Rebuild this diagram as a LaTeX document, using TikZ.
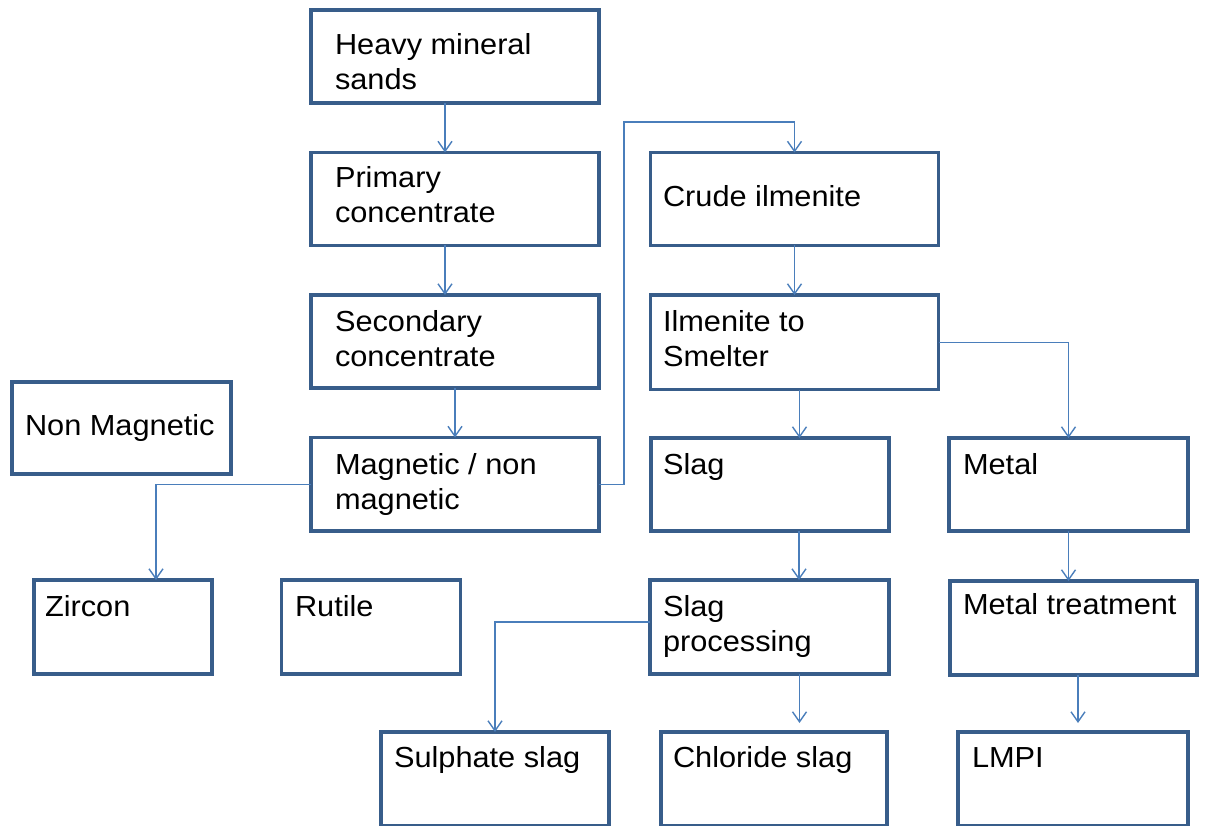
\documentclass[tikz,border=0pt]{standalone}
\usepackage{fontspec}
\setmainfont{Liberation Sans}[FakeStretch=1.06]
\usetikzlibrary{arrows.meta,calc}
\definecolor{boxc}{RGB}{56,93,138}
\definecolor{arrc}{RGB}{74,126,187}
\tikzset{
  box/.style={draw=boxc, line width=3.6pt, inner sep=0pt, outer sep=0pt, anchor=north west, fill=white},
  txt/.style={inner sep=0pt, outer sep=0pt, anchor=base west, font=\fontsize{29}{35}\selectfont},
  arr/.style={draw=arrc, line width=1.4pt, -{Straight Barb[length=10pt,width=14pt]}},
}
\newcommand{\twol}[2]{\begin{tabular}[t]{@{}l@{}}#1\\#2\end{tabular}}
\begin{document}
\begin{tikzpicture}[x=1pt,y=-1pt]
\useasboundingbox (0,0) rectangle (1209,826);
% boxes
\node[box, minimum width=288pt, minimum height=93pt] (hms) at (311,10) {};
\node[box, minimum width=288pt, minimum height=93pt] (prim) at (311,152.5) {};
\node[box, minimum width=288pt, minimum height=93pt] (sec) at (311,295) {};
\node[box, minimum width=288pt, minimum height=93.5pt] (mag) at (311,437.5) {};
\node[box, minimum width=219pt, minimum height=92pt] (nonmag) at (12,382) {};
\node[box, minimum width=178pt, minimum height=94pt] (zir) at (34,580) {};
\node[box, minimum width=179pt, minimum height=94pt] (rut) at (281.5,580) {};
\node[box, minimum width=288pt, minimum height=93pt] (crude) at (650.5,152.5) {};
\node[box, minimum width=288pt, minimum height=94.5pt] (ilm) at (650.5,295) {};
\node[box, minimum width=238pt, minimum height=93pt] (slag) at (651,438) {};
\node[box, minimum width=239pt, minimum height=93pt] (metal) at (949,438) {};
\node[box, minimum width=239pt, minimum height=94pt] (slagp) at (650,580) {};
\node[box, minimum width=247pt, minimum height=94pt] (metalt) at (950,581) {};
\node[box, minimum width=228pt, minimum height=94.2pt] (sulph) at (381,732) {};
\node[box, minimum width=226pt, minimum height=94.2pt] (chlor) at (661,732) {};
\node[box, minimum width=230pt, minimum height=94.2pt] (lmpi) at (958,732) {};
% texts
\node[txt] (t1) at (335,55) {\twol{Heavy mineral}{sands}};
\node[txt] (t2) at (335,188) {\twol{Primary}{concentrate}};
\node[txt] (t3) at (335,331) {\twol{Secondary}{concentrate}};
\node[txt] (t4) at (335,474) {\twol{Magnetic / non}{magnetic}};
\node[txt] (t5) at (25,435) {Non Magnetic};
\node[txt] (t6) at (45,616) {Zircon};
\node[txt] (t7) at (295,616) {Rutile};
\node[txt] (t8) at (663,207) {Crude ilmenite};
\node[txt] (t9) at (663,331) {\twol{Ilmenite to}{Smelter}};
\node[txt] (t10) at (663,474) {Slag};
\node[txt] (t11) at (963,474) {Metal};
\node[txt] (t12) at (663,616) {\twol{Slag}{processing}};
\node[txt] (t13) at (963,614) {Metal treatment};
\node[txt] (t14) at (394,767) {Sulphate slag};
\node[txt] (t15) at (673,767) {Chloride slag};
\node[txt] (t16) at (972,767) {LMPI};
% connectors
\coordinate (b1) at (624,122);
\draw[arr] ([xshift=-10pt]hms.south) -- ([xshift=-10pt]hms.south |- prim.north);
\draw[arr] ([xshift=-10pt]prim.south) -- ([xshift=-10pt]prim.south |- sec.north);
\draw[arr] (sec.south) -- (sec.south |- mag.north);
\draw[arr] (mag.west) -| ([xshift=33pt]zir.north);
\draw[arr] (mag.east) -| (b1) -| (crude.north);
\draw[arr] (crude.south) -- (crude.south |- ilm.north);
\draw[arr] ([xshift=5pt]ilm.south) -- ([xshift=5pt]ilm.south |- slag.north);
\draw[arr] (ilm.east) -| (metal.north);
\draw[arr] ([xshift=29pt]slag.south) -- ([xshift=29pt]slag.south |- slagp.north);
\draw[arr] (metal.south) -- (metal.south |- metalt.north);
\draw[arr] ([yshift=5pt]slagp.west) -| (sulph.north);
\draw[arr, shorten >=9pt] ([xshift=30pt]slagp.south) -- ([xshift=30pt]slagp.south |- chlor.north);
\draw[arr, shorten >=9pt] ([xshift=4.5pt]metalt.south) -- ([xshift=4.5pt]metalt.south |- lmpi.north);
\end{tikzpicture}
\end{document}
